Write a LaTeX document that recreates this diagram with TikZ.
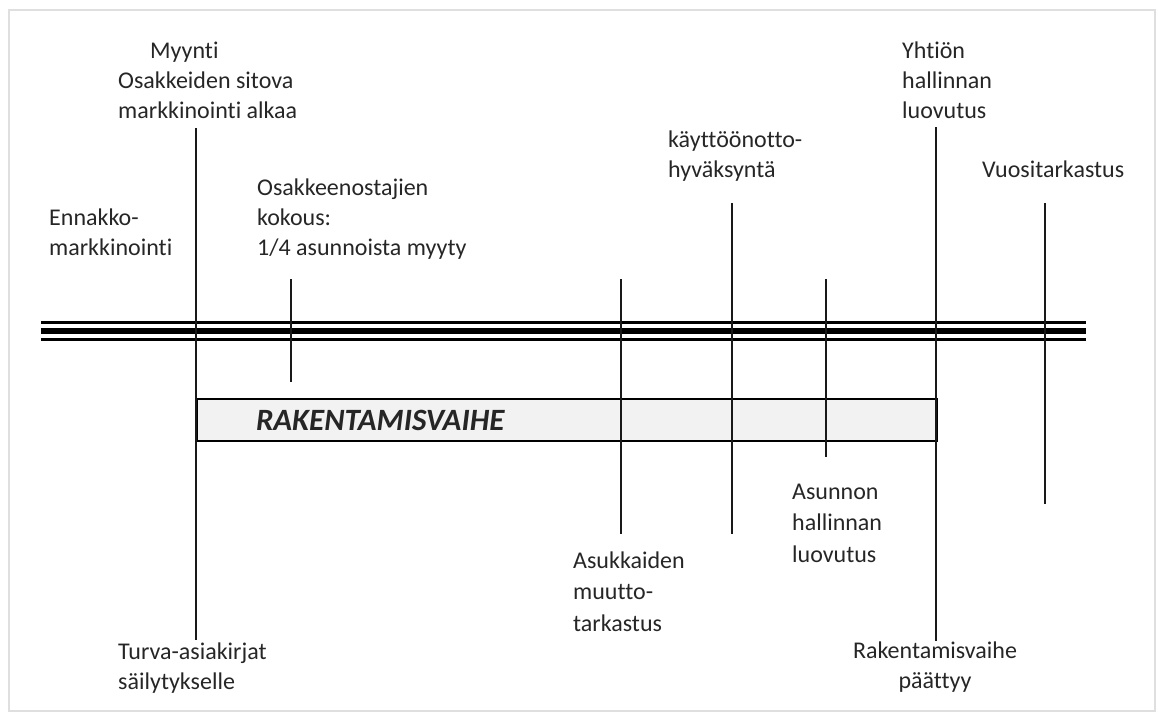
\documentclass[tikz,border=0pt]{standalone}
\usepackage{fontspec}
\setmainfont{Carlito}[Ligatures={NoCommon}]
\usepackage{tikz}
\tikzstyle{every node}=[inner sep=0pt,text=black!85]
\tikzstyle{label}=[anchor=base west,align=left,font=\fontsize{24}{30}\selectfont]
\tikzstyle{tick}=[line width=2.4pt,black!90]
\tikzstyle{axisthin}=[line width=2.2pt,black]
\tikzstyle{axisthick}=[line width=6.5pt,black]
\tikzstyle{phasebox}=[draw=black,line width=2pt,fill=gray!10,anchor=north west,
      minimum width=740pt,minimum height=42pt,text width=740pt,inner xsep=0pt,
      align=left,font=\fontsize{31}{32}\selectfont\bfseries\itshape]

\begin{document}
\begin{tikzpicture}[x=1pt,y=-1pt]
    \useasboundingbox (0,0) rectangle (1158,713);
    \draw[gray!25,line width=2pt] (9,10) rectangle (1155,711);

    % time axis
    \coordinate (axisL) at (41,331);
    \coordinate (axisR) at (1086,331);
    \draw[axisthick] (axisL) -- (axisR);
    \draw[axisthin] ([yshift=8.5pt]axisL) -- ([yshift=8.5pt]axisR);
    \draw[axisthin] ([yshift=-8.5pt]axisL) -- ([yshift=-8.5pt]axisR);

    % construction phase
    \node[phasebox] (phase) at (196,398) {\hspace*{59pt}RAKENTAMISVAIHE};

    % milestones
    \coordinate (saleTop) at (196,128);      \coordinate (saleBot) at (196,640);
    \coordinate (meetTop) at (291,279);      \coordinate (meetBot) at (291,382);
    \coordinate (moveTop) at (621,279);      \coordinate (moveBot) at (621,534);
    \coordinate (useTop) at (732,203);       \coordinate (useBot) at (732,534);
    \coordinate (flatTop) at (826,279);      \coordinate (flatBot) at (826,457);
    \coordinate (endTop) at (936,127);       \coordinate (endBot) at (936,641);
    \coordinate (yearTop) at (1045,203);     \coordinate (yearBot) at (1045,504);
    \draw[tick] (saleTop) -- (saleBot);
    \draw[tick] (meetTop) -- (meetBot);
    \draw[tick] (moveTop) -- (moveBot);
    \draw[tick] (useTop) -- (useBot);
    \draw[tick] (flatTop) -- (flatBot);
    \draw[tick] (endTop) -- (endBot);
    \draw[tick] (yearTop) -- (yearBot);

    % labels above (placed at the baseline of the last line)
    \node[label] (sale) at (118,118) {\hspace*{32pt}Myynti\\Osakkeiden sitova\\markkinointi alkaa};
    \node[label] (premarket) at (49,255) {Ennakko-\\markkinointi};
    \node[label] (meeting) at (257,255) {Osakkeenostajien\\kokous:\\1/4 asunnoista myyty};
    \node[label] (approval) at (668,177) {käyttöönotto-\\hyväksyntä};
    \node[label] (company) at (902,118) {Yhtiön\\hallinnan\\luovutus};
    \node[label] (yearly) at (982,177) {Vuositarkastus};

    % labels below
    \node[label,font=\fontsize{24}{31.5}\selectfont] (movein) at (573,631) {Asukkaiden\\muutto-\\tarkastus};
    \node[label,font=\fontsize{24}{31.5}\selectfont] (flat) at (792,562) {Asunnon\\hallinnan\\luovutus};
    \node[label] (safety) at (118,689) {Turva-asiakirjat\\säilytykselle};
    \node[label,anchor=base,align=center] (phaseend) at (935,688) {Rakentamisvaihe\\päättyy};
\end{tikzpicture}
\end{document}
